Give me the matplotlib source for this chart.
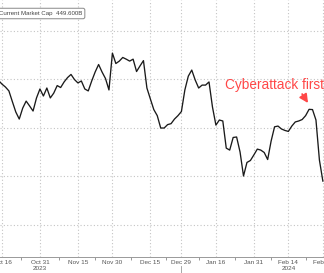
import numpy as np
import pandas as pd
import matplotlib
matplotlib.use('Agg')
import matplotlib.pyplot as plt
import matplotlib.transforms as mtransforms

plt.rcParams['font.family'] = ['Liberation Sans', 'DejaVu Sans']

# trading days shown (US market holidays skipped)
holidays = ['2023-11-23', '2023-12-25', '2024-01-01', '2024-01-15', '2024-02-19']
dates = pd.bdate_range('2023-10-13', '2024-02-29', freq='C', holidays=holidays)

# market cap, billions USD
market_cap = [
    489.4, 487.9, 486.7, 485.1, 480.7, 476.4, 473.5, 478.0, 480.9, 478.9,
    476.8, 482.2, 485.9, 483.0, 486.3, 482.2, 484.2, 487.3, 486.5, 488.8,
    490.6, 491.9, 489.8, 488.4, 489.2, 485.9, 485.1, 489.2, 492.9, 496.0,
    492.9, 490.2, 485.5, 500.7, 496.4, 497.4, 498.9, 498.2, 497.4, 498.2,
    493.1, 495.4, 497.6, 486.3, 481.8, 477.4, 474.9, 469.8, 469.8, 471.2,
    471.6, 473.5, 474.9, 476.6, 485.5, 491.2, 493.7, 489.6, 486.3, 487.5,
    487.5, 488.8, 478.5, 471.0, 473.1, 472.7, 461.5, 460.7, 465.9, 466.1,
    459.9, 450.0, 455.6, 456.4, 458.7, 461.1, 460.7, 459.7, 456.8, 464.4,
    470.3, 470.6, 469.4, 468.8, 468.4, 470.6, 472.3, 472.7, 473.3, 474.9,
    477.5, 477.4, 473.1, 456.6, 447.9,
]

tick_dates = ['2023-10-16', '2023-10-31', '2023-11-15', '2023-11-30', '2023-12-15',
              '2023-12-29', '2024-01-16', '2024-01-31', '2024-02-14', '2024-02-29']
tick_labels = ['Oct 16', 'Oct 31', 'Nov 15', 'Nov 30', 'Dec 15',
               'Dec 29', 'Jan 16', 'Jan 31', 'Feb 14', 'Feb 29']
year_labels = {'2023-10-31': '2023', '2024-02-14': '2024'}
grid_levels = [430, 450, 470, 490, 510]

x = np.arange(len(dates))
pos = {d.strftime('%Y-%m-%d'): i for i, d in enumerate(dates)}
tick_pos = [pos[d] for d in tick_dates]

fig = plt.figure(figsize=(3.24, 2.73), dpi=100)
ax = fig.add_axes([0, 16 / 273, 1, 257 / 273])

ax.plot(x, market_cap, color='#1a1a1a', linewidth=0.95, zorder=3)

ax.set_xlim(0.42, 94.33)
ax.set_ylim(416.6, 522.6)

ax.set_yticks(grid_levels)
ax.tick_params(axis='y', length=0, labelleft=False)
ax.set_xticks(tick_pos)
ax.set_xticklabels(tick_labels, fontsize=4.6, color='#555555')
ax.tick_params(axis='x', which='major', length=0, pad=2)
mids = [(a + b) / 2 for a, b in zip(tick_pos[:-1], tick_pos[1:])]
ax.set_xticks(mids, minor=True)
ax.tick_params(axis='x', which='minor', length=2, width=0.6, color='#888888', direction='out')

ax.grid(True, which='major', color='#c4c4c4', linestyle=(0, (1, 2)), linewidth=0.8)
for s in ['top', 'left', 'right']:
    ax.spines[s].set_visible(False)
ax.spines['bottom'].set_color('#999999')
ax.spines['bottom'].set_linewidth(0.7)

# year labels and year separator
trans = mtransforms.blended_transform_factory(ax.transData, fig.transFigure)
for d, lab in year_labels.items():
    ax.text(pos[d], 1 - 269 / 273, lab, transform=trans, ha='center', va='center',
            fontsize=4.6, color='#555555', clip_on=False)
ax.plot([pos['2023-12-29']] * 2, [0, 1 - 266 / 273], transform=trans,
        color='#999999', linewidth=0.6, clip_on=False)

# market cap box
fig.text(-0.004, 1 - 13.5 / 273, 'Current Market Cap  449.600B', fontsize=4.4,
         color='#444444', ha='left', va='center',
         bbox=dict(boxstyle='round,pad=0.45,rounding_size=0.3', fc='white',
                   ec='#888888', lw=0.7))

# annotation
ax.text(65.6, 485.9, 'Cyberattack first', color='#ff4747', fontsize=9.8,
        ha='left', va='baseline', clip_on=False)
ax.annotate('', xy=(89.7, 480.1), xytext=(88.0, 483.8),
            arrowprops=dict(arrowstyle='-|>,head_length=0.5,head_width=0.25',
                            color='#ff4747', lw=1.3, shrinkA=0, shrinkB=0))

fig.savefig('out.png', dpi=100)
